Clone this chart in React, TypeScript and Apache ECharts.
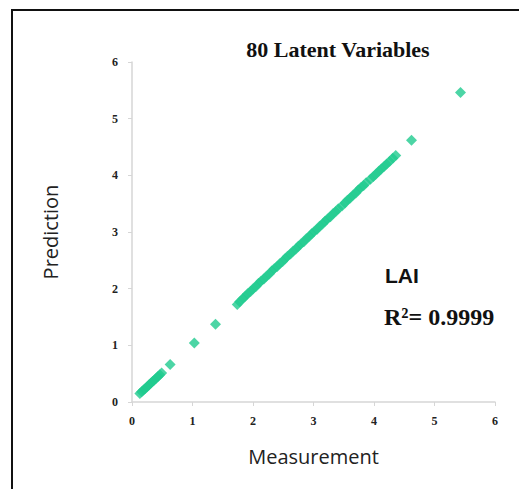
import React, { useEffect, useRef } from "react";
import * as echarts from "echarts";

const titleText = "80 Latent Variables";
const xAxisName = "Measurement";
const yAxisName = "Prediction";
const labelName = "LAI";
const r2Text = "R\u00b2= 0.9999";

const measurement = [
  0.13, 0.16, 0.19, 0.22, 0.25, 0.28, 0.31, 0.34, 0.37, 0.4, 0.43, 0.46, 0.49,
  0.63, 1.03, 1.38,
  1.74, 1.78, 1.83, 1.87, 1.91, 1.96, 2.0, 2.05, 2.09, 2.13, 2.18, 2.22, 2.27,
  2.31, 2.35, 2.4, 2.44, 2.49, 2.53, 2.57, 2.62, 2.66, 2.71, 2.75, 2.79, 2.84,
  2.88, 2.93, 2.97, 3.01, 3.06, 3.1, 3.15, 3.19, 3.23, 3.28, 3.32, 3.37, 3.41,
  3.47, 3.52, 3.56, 3.61, 3.65, 3.7, 3.74, 3.78, 3.83, 3.87, 3.94, 3.99, 4.03,
  4.08, 4.12, 4.17, 4.21, 4.26, 4.31, 4.36,
  4.62, 5.43,
];
const prediction = [
  0.15, 0.18, 0.21, 0.24, 0.27, 0.3, 0.33, 0.36, 0.39, 0.42, 0.45, 0.48, 0.51,
  0.66, 1.04, 1.37,
  1.72, 1.77, 1.82, 1.86, 1.91, 1.95, 2.0, 2.04, 2.09, 2.13, 2.17, 2.22, 2.26,
  2.31, 2.35, 2.39, 2.44, 2.48, 2.53, 2.57, 2.61, 2.66, 2.7, 2.75, 2.79, 2.83,
  2.88, 2.92, 2.97, 3.01, 3.05, 3.1, 3.14, 3.19, 3.23, 3.27, 3.32, 3.36, 3.41,
  3.46, 3.51, 3.56, 3.6, 3.65, 3.69, 3.74, 3.78, 3.82, 3.87, 3.93, 3.98, 4.02,
  4.07, 4.11, 4.16, 4.2, 4.25, 4.3, 4.35,
  4.62, 5.46,
];
const axisTicks = [0, 1, 2, 3, 4, 5, 6];

export default function App() {
  const ref = useRef<HTMLDivElement>(null);
  useEffect(() => {
    if (!ref.current) return;
    const chart = echarts.init(ref.current, null, { renderer: "svg" });
    const points = measurement.map((m, i) => [m, prediction[i]]);
    const axisCommon = {
      type: "value" as const,
      min: axisTicks[0],
      max: axisTicks[axisTicks.length - 1],
      interval: 1,
      splitLine: { show: false },
      axisLine: { show: true, lineStyle: { color: "#d6d6d6", width: 1.5 } },
      axisTick: { show: true, length: 4, lineStyle: { color: "#d6d6d6" } },
      axisLabel: {
        color: "#222",
        fontFamily: "Liberation Serif",
        fontWeight: "bold" as const,
        fontSize: 12,
      },
      nameLocation: "middle" as const,
      nameTextStyle: {
        color: "#222",
        fontFamily: "Open Sans",
        fontSize: 20,
      },
    };
    chart.setOption({
      animation: false,
      backgroundColor: "#fff",
      title: {
        text: titleText,
        left: 333,
        top: 33,
        textAlign: "center",
        textStyle: {
          fontFamily: "Liberation Serif",
          fontWeight: "bold",
          fontSize: 22,
          color: "#111",
        },
      },
      grid: { left: 132, right: 24, top: 62, bottom: 87 },
      xAxis: {
        ...axisCommon,
        name: xAxisName,
        nameGap: 44,
        axisLabel: { ...axisCommon.axisLabel, margin: 13 },
      },
      yAxis: {
        ...axisCommon,
        name: yAxisName,
        nameGap: 72,
        axisLabel: { ...axisCommon.axisLabel, margin: 14 },
      },
      graphic: [
        {
          type: "rect",
          shape: { x: 12, y: 10, width: 540, height: 520 },
          style: { fill: "none", stroke: "#111", lineWidth: 2 },
          silent: true,
        },
        {
          type: "text",
          x: 385,
          y: 275,
          style: {
            text: labelName,
            fontFamily: "Liberation Sans",
            fontWeight: "bold",
            fontSize: 21,
            fill: "#111",
            verticalAlign: "middle",
          },
        },
        {
          type: "text",
          x: 384,
          y: 317,
          style: {
            text: r2Text,
            fontFamily: "Liberation Serif",
            fontWeight: "bold",
            fontSize: 24,
            fill: "#111",
            verticalAlign: "middle",
          },
        },
      ],
      series: [
        {
          type: "scatter",
          data: points,
          symbol: "diamond",
          symbolSize: 11,
          itemStyle: { color: "#1fca8e" },
        },
      ],
    });
    return () => chart.dispose();
  }, []);
  return (
    <div
      ref={ref}
      style={{ position: "absolute", left: 0, top: 0, width: 519, height: 489 }}
    />
  );
}
